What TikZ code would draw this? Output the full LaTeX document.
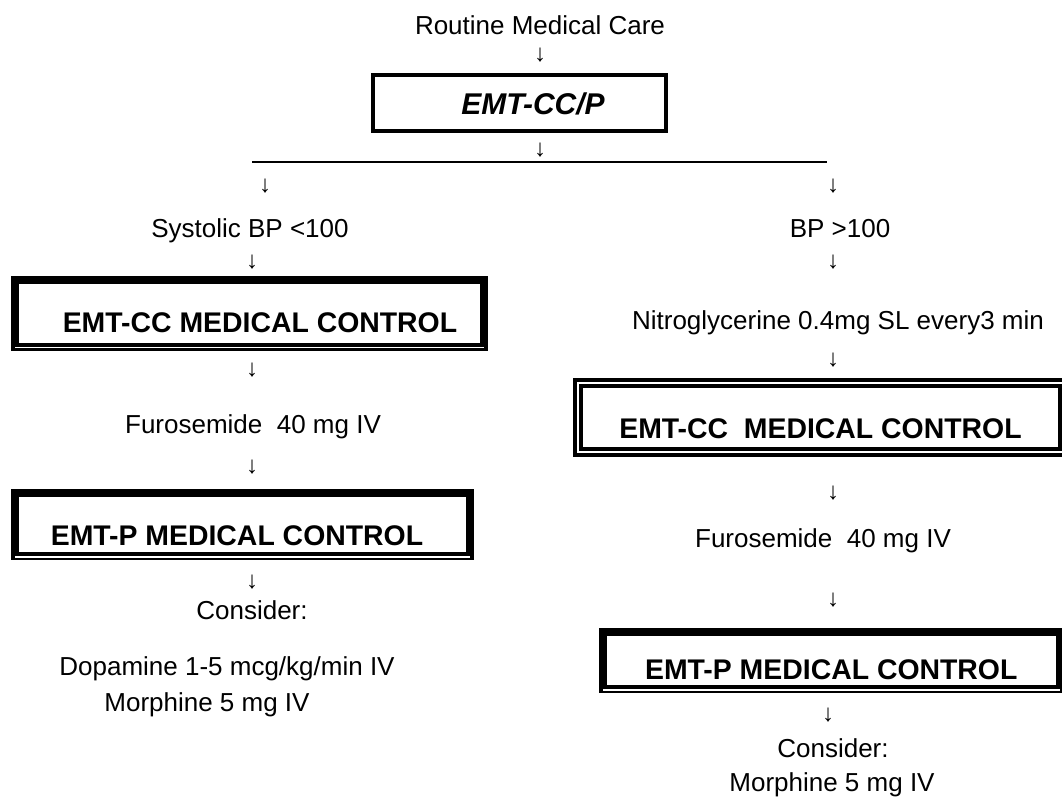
\documentclass[tikz,border=0pt]{standalone}
\usepackage{fontspec}
\setmainfont{Liberation Sans}
\begin{document}
\begin{tikzpicture}[x=1pt,y=-1pt,
  every node/.style={inner sep=0pt, outer sep=0pt},
  txt/.style={font=\fontsize{26}{30}\selectfont, anchor=base},
  arr/.style={font=\fontsize{24}{28}\selectfont, anchor=center},
  boldtxt/.style={font=\fontsize{28.4}{32}\selectfont\bfseries},
  singlebox/.style={draw, line width=4pt, anchor=north west, boldtxt},
  thickbox/.style={draw, line width=8pt, anchor=north west, boldtxt},
  doublebox/.style={draw, line width=4pt, double=white, double distance=2pt, anchor=north west, boldtxt},
  stripe/.style={white, line width=1.2pt}
]
\useasboundingbox (0,0) rectangle (1062,806);

% top
\node[txt] (routine) at (540,34) {Routine Medical Care};
\node[arr] (a0) at (540,55) {↓};
\node[singlebox, minimum width=293pt, text height=39.5pt, text depth=16.5pt,
      font=\fontsize{30}{34}\selectfont\bfseries\itshape] (emtccp) at (373,75) {\hspace*{27pt}EMT-CC/P};
\node[arr] (a1) at (540,150) {↓};
\coordinate (lineL) at (252,162);
\coordinate (lineR) at (827,162);
\draw[line width=2pt] (lineL) -- (lineR);

% left branch
\node[arr] (aL1) at (265,186) {↓};
\node[txt] (sys) at (250,237) {Systolic BP <100};
\node[arr] (aL2) at (252,262) {↓};
\node[thickbox, minimum width=469pt, text height=52.7pt, text depth=14.3pt] (ccL) at (15,279.5) {\hspace*{21pt}EMT-CC MEDICAL CONTROL};
\draw[stripe] ([yshift=-1pt]ccL.south west) -- ([yshift=-1pt]ccL.south east);
\node[arr] (aL3) at (252,370) {↓};
\node[txt] (furoL) at (253,433) {Furosemide\ \ 40 mg IV};
\node[arr] (aL4) at (252,467) {↓};
\node[thickbox, minimum width=455pt, text height=52.7pt, text depth=10.8pt] (pL) at (15,492.5) {EMT-P MEDICAL CONTROL\hspace*{11pt}};
\draw[stripe] ([yshift=-1pt]pL.south west) -- ([yshift=-1pt]pL.south east);
\node[arr] (aL5) at (252,582) {↓};
\node[txt] (consL) at (252,619) {Consider:};
\node[txt] (dopa) at (227,675) {Dopamine 1-5 mcg/kg/min IV};
\node[txt] (morL) at (207,711) {Morphine 5 mg IV};

% right branch
\node[arr] (aR1) at (833,186) {↓};
\node[txt] (bp) at (840,237) {BP >100};
\node[arr] (aR2) at (833,262) {↓};
\node[txt] (nitro) at (838,329) {Nitroglycerine 0.4mg SL every3 min};
\node[arr] (aR3) at (833,360) {↓};
\node[doublebox, minimum width=485pt, text height=55.2pt, text depth=13.8pt] (ccR) at (578,383) {EMT-CC\ \ MEDICAL CONTROL};
\node[arr] (aR4) at (833,493) {↓};
\node[txt] (furoR) at (823,547) {Furosemide\ \ 40 mg IV};
\node[arr] (aR5) at (833,600) {↓};
\node[thickbox, minimum width=456.5pt, text height=47.7pt, text depth=9.8pt] (pR) at (603,631.5) {EMT-P MEDICAL CONTROL};
\draw[stripe] ([yshift=-1pt]pR.south west) -- ([yshift=-1pt]pR.south east);
\node[arr] (aR6) at (828,715) {↓};
\node[txt] (consR) at (833,757) {Consider:};
\node[txt] (morR) at (832,791) {Morphine 5 mg IV};
\end{tikzpicture}
\end{document}
